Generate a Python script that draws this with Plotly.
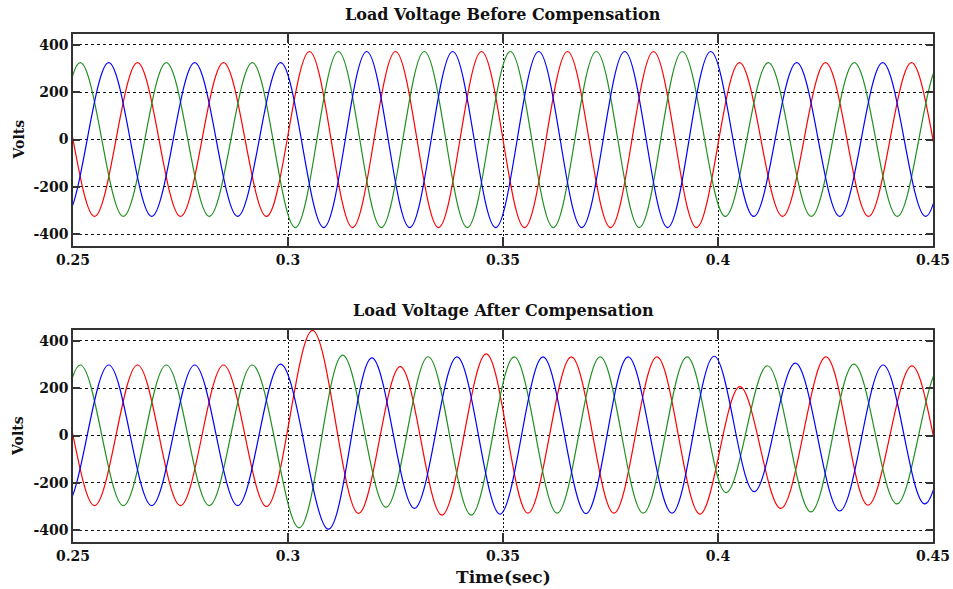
import plotly.graph_objects as go

# ---------------- data (extreme points) ----------------
# (first two and last two points of each list lie just outside the visible time window)
# Top panel: Load Voltage Before Compensation
top_red_t = [0.235, 0.245, 0.255, 0.265, 0.275, 0.285, 0.295, 0.305, 0.315, 0.325, 0.335, 0.345,
             0.355, 0.365, 0.375, 0.385, 0.395, 0.405, 0.415, 0.425, 0.435, 0.445, 0.455, 0.465]
top_red_v = [-325, 325, -325, 325, -325, 325, -325, 372, -372, 372, -372, 372,
             -372, 372, -372, 372, -372, 325, -325, 325, -325, 325, -325, 325]
top_green_t = [0.2317, 0.2417, 0.2517, 0.2617, 0.2717, 0.2817, 0.2917, 0.3017, 0.3117, 0.3217, 0.3317, 0.3417,
               0.3517, 0.3617, 0.3717, 0.3817, 0.3917, 0.4017, 0.4117, 0.4217, 0.4317, 0.4417, 0.4517, 0.4617]
top_green_v = [325, -325, 325, -325, 325, -325, 325, -372, 372, -372, 372, -372,
               372, -372, 372, -372, 372, -325, 325, -325, 325, -325, 325, -325]
top_blue_t = [0.2383, 0.2483, 0.2583, 0.2683, 0.2783, 0.2883, 0.2983, 0.3083, 0.3183, 0.3283, 0.3383, 0.3483,
              0.3583, 0.3683, 0.3783, 0.3883, 0.3983, 0.4083, 0.4183, 0.4283, 0.4383, 0.4483, 0.4583, 0.4683]
top_blue_v = [325, -325, 325, -325, 325, -325, 325, -372, 372, -372, 372, -372,
              372, -372, 372, -372, 372, -325, 325, -325, 325, -325, 325, -325]

# Bottom panel: Load Voltage After Compensation
bot_red_t = [0.235, 0.245, 0.255, 0.265, 0.275, 0.285, 0.295, 0.3057, 0.3164, 0.3261, 0.3358, 0.3461,
             0.3558, 0.3659, 0.3758, 0.3858, 0.3958, 0.4051, 0.4146, 0.4251, 0.4349, 0.4451, 0.455, 0.465]
bot_red_v = [-296, 298, -296, 298, -296, 298, -300, 444, -329, 291, -336, 345,
             -328, 332, -328, 332, -332, 207, -308, 332, -294, 294, -294, 294]
bot_green_t = [0.2317, 0.2417, 0.2517, 0.2617, 0.2717, 0.2817, 0.2917, 0.3026, 0.3127, 0.3228, 0.3326, 0.3426,
               0.3526, 0.3626, 0.3726, 0.3826, 0.3928, 0.4019, 0.4115, 0.4216, 0.4316, 0.4416, 0.4517, 0.4617]
bot_green_v = [298, -296, 298, -296, 298, -296, 298, -390, 340, -303, 333, -336,
               332, -328, 332, -328, 332, -241, 295, -323, 302, -289, 290, -290]
bot_blue_t = [0.2383, 0.2483, 0.2583, 0.2683, 0.2783, 0.2883, 0.2983, 0.3094, 0.3195, 0.3294, 0.3393, 0.3493,
              0.3593, 0.3693, 0.3791, 0.3893, 0.3991, 0.4084, 0.4180, 0.4283, 0.4384, 0.4481, 0.4583, 0.4683]
bot_blue_v = [298, -296, 298, -296, 298, -296, 302, -396, 328, -308, 332, -332,
              332, -330, 332, -328, 335, -237, 306, -319, 298, -289, 290, -290]

x_ticks = [0.25, 0.3, 0.35, 0.4, 0.45]
x_tick_labels = ["0.25", "0.3", "0.35", "0.4", "0.45"]
y_ticks = [-400, -200, 0, 200, 400]
y_tick_labels = ["-400", "-200", "0", "200", "400"]
titles = ["Load Voltage Before Compensation", "Load Voltage After Compensation"]
x_title = "Time(sec)"
y_title = "Volts"

# ---------------- styling ----------------
RED, GREEN, BLUE = "#ff0000", "#1f8f1f", "#0000ff"
FONT = "DejaVu Serif"
TXT = "#111111"

W, H = 953, 589
ML, MR, MT, MB = 73, 20, 34, 47
PW, PH = W - ML - MR, H - MT - MB
TOP_DOM = [(H - MB - 246) / PH, 1]
BOT_DOM = [0, (H - MB - 330) / PH]

fig = go.Figure()

def add(t, v, color, xa, ya):
    fig.add_trace(go.Scatter(x=t, y=v, mode="lines", xaxis=xa, yaxis=ya,
                             line=dict(color=color, width=1.2, shape="spline", smoothing=1),
                             showlegend=False, hoverinfo="skip"))

add(top_red_t, top_red_v, RED, "x", "y")
add(top_green_t, top_green_v, GREEN, "x", "y")
add(top_blue_t, top_blue_v, BLUE, "x", "y")
add(bot_red_t, bot_red_v, RED, "x2", "y2")
add(bot_green_t, bot_green_v, GREEN, "x2", "y2")
add(bot_blue_t, bot_blue_v, BLUE, "x2", "y2")

tickfont = dict(family=FONT, size=14, color=TXT, weight="bold")

xcommon = dict(range=[0.25, 0.45], tickvals=x_ticks, ticktext=x_tick_labels,
               showgrid=True, gridcolor="#111111", gridwidth=1, griddash="2px,2px",
               zeroline=False, showline=True, linecolor="#333333", linewidth=1.5,
               mirror="allticks", ticks="inside", ticklen=9, tickcolor="#333333",
               tickwidth=1.5, tickfont=tickfont, automargin=False)
ycommon = dict(range=[-450, 446], tickvals=y_ticks, ticktext=y_tick_labels,
               showgrid=True, gridcolor="#111111", gridwidth=1, griddash="3px,3px",
               zeroline=False, showline=True, linecolor="#333333", linewidth=1.5,
               mirror="allticks", ticks="inside", ticklen=7, tickcolor="#333333",
               tickwidth=1.5, tickfont=tickfont, automargin=False)

def py(pix_y):
    """pixel y (from top of page) -> paper y"""
    return (H - MB - pix_y) / PH

def px(pix_x):
    return (pix_x - ML) / PW

title_font = dict(family=FONT, size=16, color=TXT, weight="bold")
annotations = [
    dict(text=titles[0], x=0.5, y=py(14), font=title_font),
    dict(text=titles[1], x=0.5, y=py(311), font=title_font),
    dict(text=x_title, x=0.5, y=py(577), font=dict(family=FONT, size=17, color=TXT, weight="bold")),
    dict(text=y_title, x=px(18), y=py(139.5), textangle=-90,
         font=dict(family=FONT, size=14, color=TXT, weight="bold")),
    dict(text=y_title, x=px(18), y=py(436), textangle=-90,
         font=dict(family=FONT, size=14, color=TXT, weight="bold")),
]
for a in annotations:
    a.update(xref="paper", yref="paper", showarrow=False, xanchor="center", yanchor="middle")

fig.update_layout(
    width=W, height=H,
    margin=dict(l=ML, r=MR, t=MT, b=MB, autoexpand=False),
    paper_bgcolor="white", plot_bgcolor="white",
    xaxis=dict(domain=[0, 1], anchor="y", **xcommon),
    yaxis=dict(domain=TOP_DOM, anchor="x", **ycommon),
    xaxis2=dict(domain=[0, 1], anchor="y2", **xcommon),
    yaxis2=dict(domain=BOT_DOM, anchor="x2", **ycommon),
    annotations=annotations,
)

fig.write_html(
    "out.html",
    config={"displayModeBar": False},
    post_script="document.body.style.margin='0';document.body.style.padding='0';"
                "document.body.style.overflow='hidden';",
)
